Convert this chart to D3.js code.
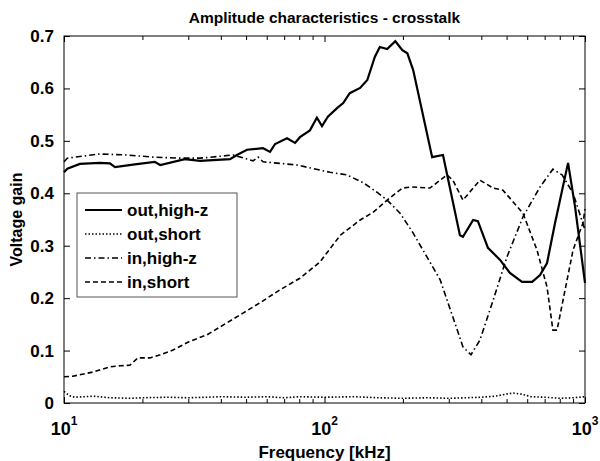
<!DOCTYPE html>
<html>
<head>
<meta charset="utf-8">
<script src="https://cdn.jsdelivr.net/npm/d3@7"></script>
<style>
  body { margin: 0; background: #fff; }
  text { font-family: "Liberation Sans", Arial, sans-serif; font-weight: bold; fill: #000; }
</style>
</head>
<body>
<script>
// values (frequency in kHz, gain)
var outHighZFreq = [10, 10.3, 11.5, 13.7, 15.0, 15.7, 18.7, 22.3, 23.4, 29.1, 33.3, 43.4, 46.1, 50.4, 58.1, 61.8, 64.6, 71.8, 77.1, 80.5, 87.9, 93.5, 97.8, 103, 112, 118, 125, 137, 146, 156, 163, 174, 187, 199, 208, 219, 259, 285, 331, 340, 372, 388, 424, 472, 515, 573, 627, 672, 715, 767, 861, 916, 1000];
var outHighZ = [0.44, 0.447, 0.456, 0.458, 0.457, 0.45, 0.455, 0.46, 0.454, 0.465, 0.462, 0.465, 0.473, 0.483, 0.486, 0.479, 0.494, 0.505, 0.496, 0.507, 0.52, 0.544, 0.528, 0.546, 0.563, 0.572, 0.591, 0.601, 0.616, 0.66, 0.679, 0.675, 0.69, 0.673, 0.667, 0.635, 0.469, 0.473, 0.32, 0.317, 0.349, 0.347, 0.296, 0.273, 0.248, 0.231, 0.231, 0.244, 0.267, 0.343, 0.458, 0.374, 0.229];

var outShortFreq = [10, 10.5, 11, 13, 15, 18, 20, 25, 30, 35, 40, 50, 60, 70, 80, 100, 130, 160, 200, 250, 300, 350, 400, 450, 500, 530, 570, 620, 700, 800, 900, 1000];
var outShort = [0.022, 0.014, 0.011, 0.013, 0.01, 0.009, 0.01, 0.011, 0.01, 0.011, 0.012, 0.011, 0.012, 0.01, 0.012, 0.011, 0.012, 0.01, 0.009, 0.01, 0.009, 0.01, 0.011, 0.013, 0.017, 0.019, 0.017, 0.012, 0.011, 0.009, 0.01, 0.012];

var inHighZFreq = [10, 10.3, 13.7, 17.5, 22.0, 27.9, 33.3, 44.6, 53.2, 55.6, 58.1, 78.4, 105, 122, 141, 159, 174, 195, 219, 247, 278, 311, 340, 365, 395, 444, 502, 578, 672, 753, 817, 900, 1000];
var inHighZ = [0.46, 0.467, 0.475, 0.473, 0.469, 0.467, 0.467, 0.473, 0.462, 0.469, 0.46, 0.454, 0.44, 0.435, 0.42, 0.402, 0.387, 0.362, 0.324, 0.279, 0.235, 0.164, 0.107, 0.092, 0.12, 0.196, 0.279, 0.355, 0.412, 0.446, 0.435, 0.4, 0.33];

var inShortFreq = [10, 10.8, 12.9, 15.0, 16.4, 17.9, 19.2, 21.4, 23.4, 26.2, 30.5, 35.4, 39.7, 47.4, 56.5, 67.5, 80.5, 96.1, 102, 115, 137, 154, 174, 199, 217, 254, 295, 311, 340, 395, 444, 484, 578, 654, 715, 753, 781, 900, 982, 1000];
var inShort = [0.05, 0.051, 0.059, 0.069, 0.071, 0.072, 0.086, 0.086, 0.092, 0.101, 0.118, 0.13, 0.145, 0.168, 0.191, 0.216, 0.238, 0.269, 0.286, 0.32, 0.349, 0.364, 0.387, 0.41, 0.412, 0.41, 0.435, 0.425, 0.387, 0.425, 0.41, 0.406, 0.362, 0.292, 0.221, 0.139, 0.139, 0.292, 0.343, 0.37];

var seriesNames = ["out,high-z", "out,short", "in,high-z", "in,short"];
var yTicks = [0, 0.1, 0.2, 0.3, 0.4, 0.5, 0.6, 0.7];
var xMajor = [10, 100, 1000];

var width = 600, height = 461;
var margin = {left: 64, right: 15, top: 36, bottom: 58};
var w = width - margin.left - margin.right;
var h = height - margin.top - margin.bottom;

var svg = d3.select("body").append("svg").attr("width", width).attr("height", height);
var g = svg.append("g").attr("transform", "translate(" + margin.left + "," + margin.top + ")");

var x = d3.scaleLog().domain([10, 1000]).range([0, w]);
var y = d3.scaleLinear().domain([0, 0.7]).range([h, 0]);

var minor = [];
[10, 100].forEach(function(d){ for (var k = 2; k <= 9; k++) minor.push(d * k); });

// frame
g.append("rect").attr("width", w).attr("height", h).attr("fill", "none").attr("stroke", "#000").attr("stroke-width", 1);

// ticks
g.append("g").attr("transform", "translate(0," + h + ")")
  .call(d3.axisBottom(x).tickValues(minor).tickSize(-4).tickFormat(""))
  .call(function(s){ s.select(".domain").remove(); });
g.append("g").attr("transform", "translate(0," + h + ")")
  .call(d3.axisBottom(x).tickValues(xMajor).tickSize(-6).tickFormat(""))
  .call(function(s){ s.select(".domain").remove(); });
g.append("g")
  .call(d3.axisTop(x).tickValues(minor).tickSize(-4).tickFormat(""))
  .call(function(s){ s.select(".domain").remove(); });
g.append("g")
  .call(d3.axisTop(x).tickValues(xMajor).tickSize(-6).tickFormat(""))
  .call(function(s){ s.select(".domain").remove(); });
var yAxis = g.append("g")
  .call(d3.axisLeft(y).tickValues(yTicks).tickSize(-6).tickPadding(10).tickFormat(function(d){ return d === 0 ? "0" : d3.format(".1f")(d); }))
  .call(function(s){ s.select(".domain").remove(); });
yAxis.selectAll("text").attr("font-size", 17).attr("font-family", "Liberation Sans, Arial, sans-serif").attr("font-weight", "bold");
g.append("g").attr("transform", "translate(" + w + ",0)")
  .call(d3.axisRight(y).tickValues(yTicks).tickSize(-6).tickFormat(""))
  .call(function(s){ s.select(".domain").remove(); });

// x tick labels with superscript
var xl = g.selectAll(".xlab").data(xMajor).enter().append("text")
  .attr("class", "xlab")
  .attr("x", function(d){ return x(d); })
  .attr("y", h + 32)
  .attr("text-anchor", "middle")
  .attr("font-size", 18);
xl.append("tspan").text("10");
xl.append("tspan").attr("dy", -10).attr("font-size", 12).text(function(d){ return Math.round(Math.log10(d)); });

// lines
var line = d3.line().x(function(d){ return x(d[0]); }).y(function(d){ return y(d[1]); });
var series = [
  {f: outHighZFreq, v: outHighZ, sw: 2.2, dash: null},
  {f: outShortFreq, v: outShort, sw: 1.6, dash: "1.5,2"},
  {f: inHighZFreq, v: inHighZ, sw: 1.6, dash: "6,3,1.5,3"},
  {f: inShortFreq, v: inShort, sw: 1.6, dash: "5,3"}
];
series.forEach(function(s){
  g.append("path")
    .attr("d", line(d3.zip(s.f, s.v)))
    .attr("fill", "none")
    .attr("stroke", "#000")
    .attr("stroke-width", s.sw)
    .attr("stroke-dasharray", s.dash);
});

// legend
var leg = svg.append("g").attr("transform", "translate(77,193)");
leg.append("rect").attr("width", 160).attr("height", 104).attr("fill", "#fff").attr("stroke", "#555").attr("stroke-width", 1);
series.forEach(function(s, i){
  var yy = 17 + i * 24;
  leg.append("line").attr("x1", 8).attr("x2", 45).attr("y1", yy).attr("y2", yy)
    .attr("stroke", "#000").attr("stroke-width", s.sw).attr("stroke-dasharray", s.dash);
  leg.append("text").attr("x", 50).attr("y", yy + 6).attr("font-size", 17).text(seriesNames[i]);
});

// titles
svg.append("text").attr("x", margin.left + w / 2).attr("y", 23).attr("text-anchor", "middle")
  .attr("font-size", 15.5).text("Amplitude characteristics - crosstalk");
svg.append("text").attr("x", margin.left + w / 2).attr("y", 458).attr("text-anchor", "middle")
  .attr("font-size", 17).text("Frequency [kHz]");
svg.append("text").attr("transform", "translate(22," + (margin.top + h / 2) + ") rotate(-90)")
  .attr("text-anchor", "middle").attr("font-size", 16).text("Voltage gain");
</script>
</body>
</html>
